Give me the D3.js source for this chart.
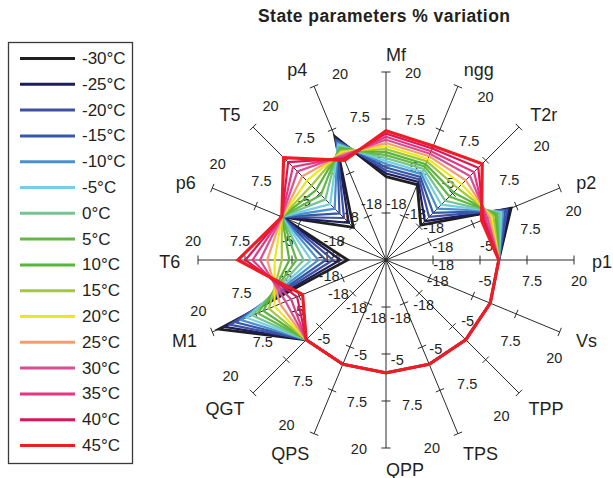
<!DOCTYPE html>
<html>
<head>
<meta charset="utf-8">
<script src="https://cdn.jsdelivr.net/npm/d3@7"></script>
<style>
  body { margin: 0; background: #fff; }
  svg { display: block; font-family: "Liberation Sans", Arial, sans-serif; }
</style>
</head>
<body>
<svg id="chart" width="613" height="478"></svg>
<script>
var axes = ['Mf', 'ngg', 'T2r', 'p2', 'p1', 'Vs', 'TPP', 'TPS', 'QPP', 'QPS', 'QGT', 'M1', 'T6', 'p6', 'T5', 'p4'];
var temps = ['-30°C', '-25°C', '-20°C', '-15°C', '-10°C', '-5°C', '0°C', '5°C', '10°C',
             '15°C', '20°C', '25°C', '30°C', '35°C', '40°C', '45°C'];
var tickValues = [-17.5, -5, 7.5, 20];
var tickLabels = ['-18', '-5', '7.5', '20'];

// % variation read on each axis, one value per temperature (-30°C .. 45°C)
var Mf  = [-7.8, -7.0, -6.2, -5.4, -4.5, -3.7, -2.9, -2.1, -1.3, -0.5, 0.3, 1.1, 2.0, 2.8, 3.6, 4.4];
var ngg = [-8.3, -7.5, -6.8, -6.1, -5.3, -4.6, -3.8, -3.1, -2.4, -1.6, -0.9, -0.1, 0.6, 1.3, 2.1, 2.8];
var T2r = [-16.9, -15.4, -13.8, -12.3, -10.7, -9.2, -7.7, -6.1, -4.6, -3.0, -1.5, 0.0, 1.6, 3.1, 4.7, 6.2];
var p2  = [6.0, 5.4, 4.9, 4.3, 3.7, 3.2, 2.6, 2.0, 1.5, 0.9, 0.3, -0.2, -0.8, -1.4, -1.9, -2.5];
var p1  = [0, 0, 0, 0, 0, 0, 0, 0, 0, 0, 0, 0, 0, 0, 0, 0];
var Vs  = [0, 0, 0, 0, 0, 0, 0, 0, 0, 0, 0, 0, 0, 0, 0, 0];
var TPP = [0, 0, 0, 0, 0, 0, 0, 0, 0, 0, 0, 0, 0, 0, 0, 0];
var TPS = [0, 0, 0, 0, 0, 0, 0, 0, 0, 0, 0, 0, 0, 0, 0, 0];
var QPP = [0, 0, 0, 0, 0, 0, 0, 0, 0, 0, 0, 0, 0, 0, 0, 0];
var QPS = [0, 0, 0, 0, 0, 0, 0, 0, 0, 0, 0, 0, 0, 0, 0, 0];
var QGT = [0, 0, 0, 0, 0, 0, 0, 0, 0, 0, 0, 0, 0, 0, 0, 0];
var M1  = [18.1, 16.5, 14.9, 13.3, 11.7, 10.1, 8.5, 6.9, 5.3, 3.7, 2.1, 0.5, -1.1, -2.7, -4.4, -6.0];
var T6  = [-19.8, -17.9, -15.9, -14.0, -12.0, -10.1, -8.1, -6.2, -4.3, -2.3, -0.4, 1.6, 3.5, 5.5, 7.4, 9.4];
var p6  = [0, 0, 0, 0, 0, 0, 0, 0, 0, 0, 0, 0, 0, 0, 0, 0];
var T5  = [-17.7, -16.0, -14.2, -12.5, -10.7, -9.0, -7.2, -5.5, -3.7, -2.0, -0.2, 1.5, 3.3, 5.0, 6.8, 8.5];
var p4  = [5.5, 5.0, 4.6, 4.1, 3.7, 3.2, 2.8, 2.3, 1.9, 1.4, 1.0, 0.5, 0.1, -0.4, -0.8, -1.3];

var colors = ['#1f1f1f', '#1d1d5e', '#3f51a3', '#3557a8', '#4a90cf', '#74cfe0', '#74c58f', '#63b846',
              '#58b43c', '#a5c83a', '#ece81c', '#f89c6c', '#d64f96', '#e2387f', '#dc1656', '#ee1c25'];

var columns = [Mf, ngg, T2r, p2, p1, Vs, TPP, TPS, QPP, QPS, QGT, M1, T6, p6, T5, p4];
var series = temps.map(function(t, j) {
  return { name: t, values: columns.map(function(col) { return col[j]; }) };
});

var cx = 386
  , cy = 260
  , R = 188
  , svg = d3.select('#chart');

var r = d3.scaleLinear().domain([-30, 20]).range([0, R])
  , angle = d3.scaleLinear().domain([0, axes.length]).range([0, 2 * Math.PI])
  , color = d3.scaleOrdinal().domain(temps).range(colors);

function xy(i, px) {
  var a = angle(i);
  return [px * Math.sin(a), -px * Math.cos(a)];
}

// title
svg.append('text')
  .attr('x', 384).attr('y', 16)
  .attr('text-anchor', 'middle')
  .attr('dominant-baseline', 'central')
  .attr('textLength', 252)
  .style('font-weight', 'bold')
  .style('font-size', '17.5px')
  .style('fill', '#231f20')
  .text('State parameters % variation');

var g = svg.append('g').attr('transform', 'translate(' + cx + ',' + cy + ')');

// spokes
g.selectAll('line.axis')
  .data(axes)
  .enter().append('line')
    .attr('class', 'axis')
    .attr('x1', 0).attr('y1', 0)
    .attr('x2', function(d, i) { return xy(i, R)[0]; })
    .attr('y2', function(d, i) { return xy(i, R)[1]; })
    .style('stroke', '#2b2b2b')
    .style('stroke-width', 1);

// ticks + value labels on every spoke
var tickData = [];
axes.forEach(function(a, i) {
  tickValues.forEach(function(v, k) {
    tickData.push({ i: i, v: v, label: tickLabels[k] });
  });
});

g.selectAll('line.tick')
  .data(tickData)
  .enter().append('line')
    .attr('class', 'tick')
    .attr('x1', function(d) { var a = angle(d.i); return xy(d.i, r(d.v))[0] - 4.5 * Math.cos(a); })
    .attr('y1', function(d) { var a = angle(d.i); return xy(d.i, r(d.v))[1] - 4.5 * Math.sin(a); })
    .attr('x2', function(d) { var a = angle(d.i); return xy(d.i, r(d.v))[0] + 4.5 * Math.cos(a); })
    .attr('y2', function(d) { var a = angle(d.i); return xy(d.i, r(d.v))[1] + 4.5 * Math.sin(a); })
    .style('stroke', '#2b2b2b')
    .style('stroke-width', 1);

g.selectAll('text.tickLabel')
  .data(tickData)
  .enter().append('text')
    .attr('class', 'tickLabel')
    .attr('text-anchor', 'middle')
    .attr('dominant-baseline', 'central')
    .style('font-size', '14.5px')
    .style('fill', '#231f20')
    .text(function(d) { return d.label; })
    .each(function(d) {
      var a = angle(d.i)
        , w = this.getComputedTextLength()
        , p = xy(d.i, r(d.v))
        , c = Math.abs(Math.cos(a))
        , s = Math.abs(Math.sin(a))
        , off = 12 + c * (7 + w / 2) + s * 8
        , out = 5 * s;
      d3.select(this)
        .attr('x', p[0] + off * Math.cos(a) + out * Math.sin(a))
        .attr('y', p[1] + off * Math.sin(a) - out * Math.cos(a) + 1);
    });

// category labels
g.selectAll('text.cat')
  .data(axes)
  .enter().append('text')
    .attr('class', 'cat')
    .attr('text-anchor', 'middle')
    .attr('dominant-baseline', 'central')
    .style('font-size', '18px')
    .style('fill', '#231f20')
    .text(function(d) { return d; })
    .each(function(d, i) {
      var a = angle(i)
        , w = this.getComputedTextLength()
        , p = xy(i, 212)
        , side = (i <= axes.length / 2) ? 1 : -1
        , dx = side * (w / 2) * (1 - 0.6 * Math.abs(Math.sin(a)))
        , dy = 2 + 4.5 * Math.cos(a);
      d3.select(this).attr('x', p[0] + dx).attr('y', p[1] + dy);
    });

// series
var radial = d3.lineRadial()
  .angle(function(d, i) { return angle(i); })
  .radius(function(d) { return r(d); })
  .curve(d3.curveLinearClosed);

g.selectAll('path.series')
  .data(series)
  .enter().append('path')
    .attr('class', 'series')
    .attr('d', function(d) { return radial(d.values); })
    .style('fill', 'none')
    .style('stroke', function(d) { return color(d.name); })
    .style('stroke-width', function(d) {
      if (d.name === '45°C') return 3.2;
      if (d.name === '-30°C') return 2.8;
      return 2.2;
    })
    .style('stroke-linejoin', 'miter');

// legend
var legend = svg.append('g');

legend.append('rect')
  .attr('x', 8.5).attr('y', 42.5)
  .attr('width', 124).attr('height', 421)
  .style('fill', '#fff')
  .style('stroke', '#3a3a3a')
  .style('stroke-width', 1.3);

var item = legend.selectAll('g.item')
  .data(temps)
  .enter().append('g')
    .attr('class', 'item')
    .attr('transform', function(d, i) { return 'translate(0,' + (58.5 + i * 25.8) + ')'; });

item.append('line')
  .attr('x1', 20).attr('x2', 75)
  .attr('y1', 0).attr('y2', 0)
  .style('stroke', function(d) { return color(d); })
  .style('stroke-width', 3);

item.append('text')
  .attr('x', 82).attr('y', 0)
  .attr('dominant-baseline', 'central')
  .style('font-size', '17px')
  .style('fill', '#231f20')
  .text(function(d) { return d; });
</script>
</body>
</html>
